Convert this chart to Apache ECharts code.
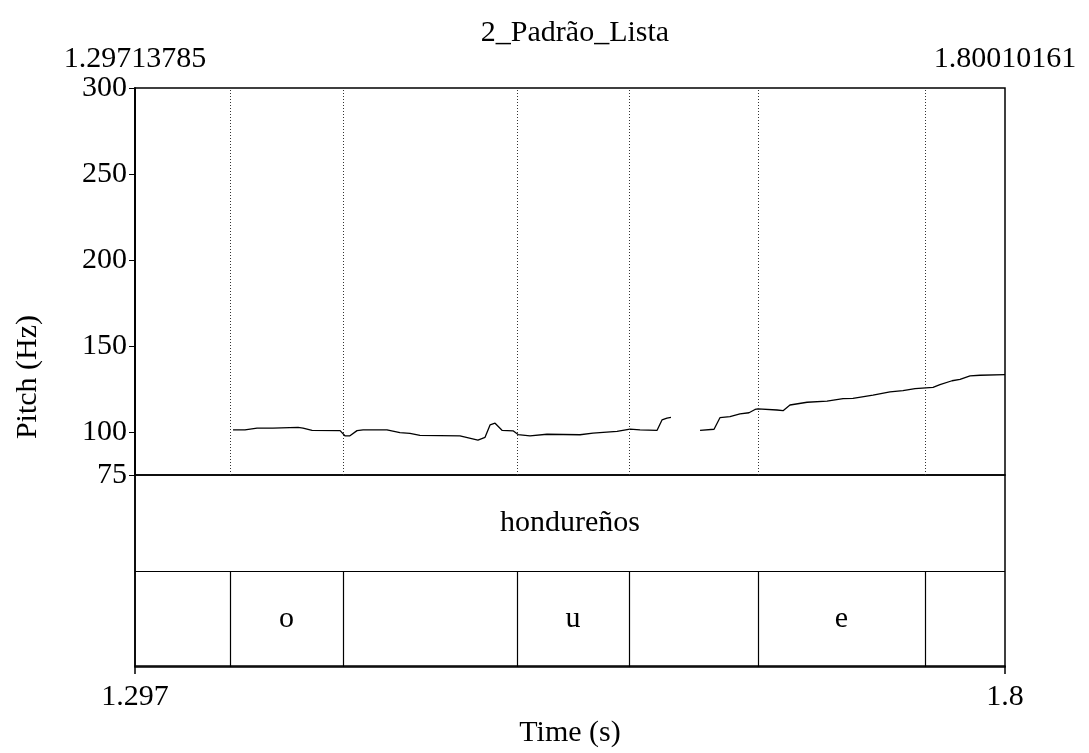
<!DOCTYPE html>
<html>
<head>
<meta charset="utf-8">
<script src="https://cdn.jsdelivr.net/npm/echarts@6/dist/echarts.min.js"></script>
<style>html,body{margin:0;padding:0;background:#fff;}#c{width:1089px;height:753px;}</style>
</head>
<body>
<div id="c"></div>
<script>
const chartTitle = '2_Padrão_Lista';
const tStart = 1.29713785;
const tEnd = 1.80010161;
const pitchMin = 75;
const pitchMax = 300;
const pitchTicks = [75, 100, 150, 200, 250, 300];

const pitchTimes = [1.3538,1.3607,1.3677,1.3769,1.3914,1.3943,1.3995,1.4157,1.4185,1.4214,1.4255,1.4290,1.4428,1.4503,1.4561,1.4619,1.4850,1.4954,1.4995,1.5024,1.5053,1.5093,1.5157,1.5186,1.5255,1.5353,1.5544,1.5619,1.5758,1.5833,1.5891,1.5989,1.6018,1.6047,1.6070,
  1.6150,
  1.6238,1.6319,1.6353,1.6411,1.6469,1.6521,1.6556,1.6573,1.6683,1.6718,1.6758,1.6857,1.6972,1.7065,1.7122,1.7238,1.7336,1.7411,1.7481,1.7585,1.7625,1.7695,1.7741,1.7799,1.7857,1.8001];
const pitchHz = [101.2,101.2,102.3,102.3,102.7,102.3,101.0,100.8,97.8,97.8,100.8,101.2,101.2,99.6,99.2,98.0,97.7,95.3,96.9,104.1,105.1,101.0,100.7,98.5,97.8,98.7,98.4,99.4,100.4,101.7,101.2,100.9,107.0,108.1,108.5,
  null,
  101.0,101.6,108.3,108.9,110.5,111.2,113.1,113.5,112.8,112.4,115.7,117.3,118.0,119.4,119.6,121.5,123.3,124.0,125.2,126.0,127.5,129.8,130.6,132.6,133.0,133.3];

const wordTier = [{start: tStart, end: tEnd, label: 'hondureños'}];
const phoneBounds = [1.35206, 1.41739, 1.51799, 1.58274, 1.65732, 1.75387];
const phoneLabels = [
  {start: 1.35206, end: 1.41739, label: 'o'},
  {start: 1.51799, end: 1.58274, label: 'u'},
  {start: 1.65732, end: 1.75387, label: 'e'}
];

const FONT = 'Liberation Serif';
const FS = 30;
const pitchData = pitchTimes.map((t, i) => [t, pitchHz[i] === null ? '-' : pitchHz[i]]);
const fmtEnd = v => String(parseFloat(Number(v).toFixed(3)));

const chart = echarts.init(document.getElementById('c'), null, {renderer: 'canvas'});
chart.setOption({
  animation: false,
  backgroundColor: '#fff',
  textStyle: {fontFamily: FONT, color: '#000'},
  title: {
    text: chartTitle, left: 570, top: 13, textAlign: 'center',
    textStyle: {fontFamily: FONT, fontSize: FS, fontWeight: 'normal', color: '#000'}
  },
  grid: [
    {left: 135, top: 88, width: 870, height: 387, show: true, borderColor: '#000', borderWidth: 1.5, backgroundColor: 'transparent'},
    {left: 135, top: 475, width: 870, height: 192, show: true, borderColor: '#000', borderWidth: 1.5, backgroundColor: 'transparent'},
    {left: 135, top: 88, width: 870, height: 579, show: false}
  ],
  xAxis: [
    {
      type: 'value', gridIndex: 0, position: 'top', min: tStart, max: tEnd,
      axisLine: {show: false}, axisTick: {show: false}, splitLine: {show: false},
      axisLabel: {
        customValues: [tStart, tEnd], showMinLabel: true, showMaxLabel: true,
        formatter: v => String(v), margin: 14,
        fontFamily: FONT, fontSize: FS, color: '#000'
      }
    },
    {
      type: 'value', gridIndex: 1, min: tStart, max: tEnd, show: false
    },
    {
      type: 'value', gridIndex: 2, min: tStart, max: tEnd,
      axisLine: {show: true, lineStyle: {color: '#000', width: 1.5}},
      axisTick: {show: true, customValues: [tStart, tEnd], length: 8, lineStyle: {color: '#000', width: 1.5}},
      splitLine: {show: false},
      axisLabel: {
        customValues: [tStart, tEnd], showMinLabel: true, showMaxLabel: true,
        formatter: fmtEnd, margin: 16, fontFamily: FONT, fontSize: FS, color: '#000'
      },
      name: 'Time (s)', nameLocation: 'middle', nameGap: 52,
      nameTextStyle: {fontFamily: FONT, fontSize: FS, color: '#000'}
    }
  ],
  yAxis: [
    {
      type: 'value', gridIndex: 0, min: pitchMin, max: pitchMax,
      axisLine: {show: true, lineStyle: {color: '#000', width: 1.5}},
      axisTick: {show: true, customValues: pitchTicks, length: 6, lineStyle: {color: '#000', width: 1}},
      splitLine: {show: false},
      axisLabel: {customValues: pitchTicks, showMinLabel: true, showMaxLabel: true, margin: 8, fontFamily: FONT, fontSize: FS, color: '#000'}
    },
    {type: 'value', gridIndex: 1, min: 0, max: 2, show: false},
    {
      type: 'value', gridIndex: 2, min: 0, max: 1,
      axisLine: {show: true, lineStyle: {color: '#000', width: 1.5}},
      axisTick: {show: false}, axisLabel: {show: false}, splitLine: {show: false},
      name: 'Pitch (Hz)', nameLocation: 'middle', nameGap: 92, nameRotate: 90,
      nameTextStyle: {fontFamily: FONT, fontSize: FS, color: '#000'}
    }
  ],
  series: [
    {
      type: 'line', xAxisIndex: 0, yAxisIndex: 0, data: pitchData,
      showSymbol: false, symbol: 'none', connectNulls: false, clip: true,
      lineStyle: {color: '#000', width: 1.3}
    },
    {
      type: 'scatter', xAxisIndex: 0, yAxisIndex: 0, data: [], silent: true,
      markLine: {
        silent: true, symbol: ['none', 'none'], label: {show: false},
        lineStyle: {color: '#333', width: 1, type: [1, 2]},
        data: phoneBounds.map(t => [{coord: [t, pitchMin]}, {coord: [t, pitchMax]}])
      }
    },
    {
      type: 'scatter', xAxisIndex: 1, yAxisIndex: 1, symbolSize: 0, silent: true,
      itemStyle: {opacity: 1},
      data: wordTier.map(d => ({value: [(d.start + d.end) / 2, 1.5], name: d.label}))
        .concat(phoneLabels.map(d => ({value: [(d.start + d.end) / 2, 0.5], name: d.label}))),
      label: {show: true, position: 'inside', formatter: p => p.name, fontFamily: FONT, fontSize: FS, color: '#000', opacity: 1},
      markLine: {
        silent: true, symbol: ['none', 'none'], label: {show: false},
        lineStyle: {color: '#000', width: 1.2, type: 'solid'},
        data: [{yAxis: 1}].concat(phoneBounds.map(t => [{coord: [t, 0]}, {coord: [t, 1]}]))
      }
    }
  ]
});
</script>
</body>
</html>
